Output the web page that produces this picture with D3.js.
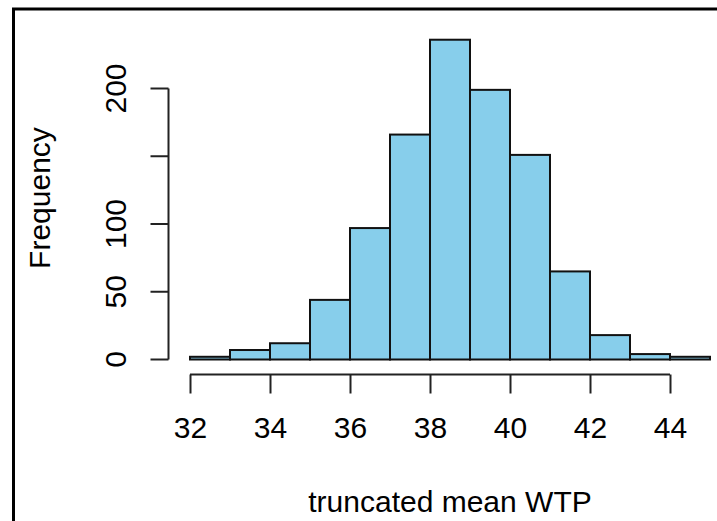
<!DOCTYPE html>
<html>
<head>
<meta charset="utf-8">
<script src="https://d3js.org/d3.v7.min.js"></script>
<style>
	body { margin: 0; background: #fff; }
	text { font-family: "Liberation Sans", Arial, sans-serif; fill: #000; }
</style>
</head>
<body>
<div id="container"></div>
<script>
// histogram bins (left edges) and counts
var binStarts = [32, 33, 34, 35, 36, 37, 38, 39, 40, 41, 42, 43, 44];
var binWidth = 1;
var counts = [2, 7, 12, 44, 97, 166, 236, 199, 151, 65, 18, 4, 2];

var xTicks = [32, 34, 36, 38, 40, 42, 44];
var yTicks = [0, 50, 100, 150, 200];
var yTickLabels = ["0", "50", "100", "", "200"];

var w = 717;
var h = 521;

function makeHist(){
	var svg = d3.select("#container")
		.append("svg")
		.attr("width", w)
		.attr("height", h);

	// plot region is wider than the visible crop
	var x = d3.scaleLinear().domain([31.48, 45.52]).range([169.2, 730.8]);
	var y = d3.scaleLinear().domain([0, 200]).range([359.5, 88.5]);

	var axisX = 168.5;
	var axisY = 374.5;

	// outer frame (only left and top visible)
	svg.append("rect")
		.attr("x", 13.5)
		.attr("y", 9)
		.attr("width", 760)
		.attr("height", 560)
		.attr("fill", "none")
		.attr("stroke", "#000")
		.attr("stroke-width", 3);

	svg.selectAll("rect.bar")
		.data(counts)
		.enter()
		.append("rect")
		.attr("class", "bar")
		.attr("x", function(d, i){ return x(binStarts[i]); })
		.attr("y", function(d){ return y(d); })
		.attr("width", function(d, i){ return x(binStarts[i] + binWidth) - x(binStarts[i]); })
		.attr("height", function(d){ return y(0) - y(d); })
		.attr("fill", "#87CEEB")
		.attr("stroke", "#111")
		.attr("stroke-width", 2);

	// x axis
	var gx = svg.append("g")
		.attr("transform", "translate(0," + axisY + ")")
		.call(d3.axisBottom(x).tickValues(xTicks).tickSize(19).tickPadding(23).tickSizeOuter(0));
	gx.select(".domain")
		.attr("d", "M" + x(xTicks[0]) + ",0H" + x(xTicks[xTicks.length - 1]));
	gx.selectAll("line, path").attr("stroke", "#222").attr("stroke-width", 2);
	gx.selectAll("text")
		.style("font-size", "30px")
		.attr("fill", "#000");

	// y axis
	var gy = svg.append("g")
		.attr("transform", "translate(" + axisX + ",0)")
		.call(d3.axisLeft(y).tickValues(yTicks).tickSize(18).tickSizeOuter(0)
			.tickFormat(function(d, i){ return yTickLabels[i]; }));
	gy.select(".domain")
		.attr("d", "M0," + y(0) + "V" + y(200));
	gy.selectAll("line, path").attr("stroke", "#222").attr("stroke-width", 2);
	gy.selectAll("text")
		.attr("x", null)
		.attr("dy", null)
		.attr("transform", function(d){ return "translate(-43," + y(d) + ") rotate(-90)"; })
		.attr("y", 0)
		.attr("text-anchor", "middle")
		.style("font-size", "30px")
		.attr("fill", "#000");
	gy.selectAll(".tick").attr("transform", null);
	gy.selectAll(".tick line")
		.attr("y1", function(d){ return y(d); })
		.attr("y2", function(d){ return y(d); });

	// axis titles
	svg.append("text")
		.attr("x", 450)
		.attr("y", 512)
		.attr("text-anchor", "middle")
		.style("font-size", "30px")
		.text("truncated mean WTP");

	svg.append("text")
		.attr("transform", "translate(50,198) rotate(-90)")
		.attr("text-anchor", "middle")
		.style("font-size", "30px")
		.text("Frequency");
}

makeHist();
</script>
</body>
</html>
